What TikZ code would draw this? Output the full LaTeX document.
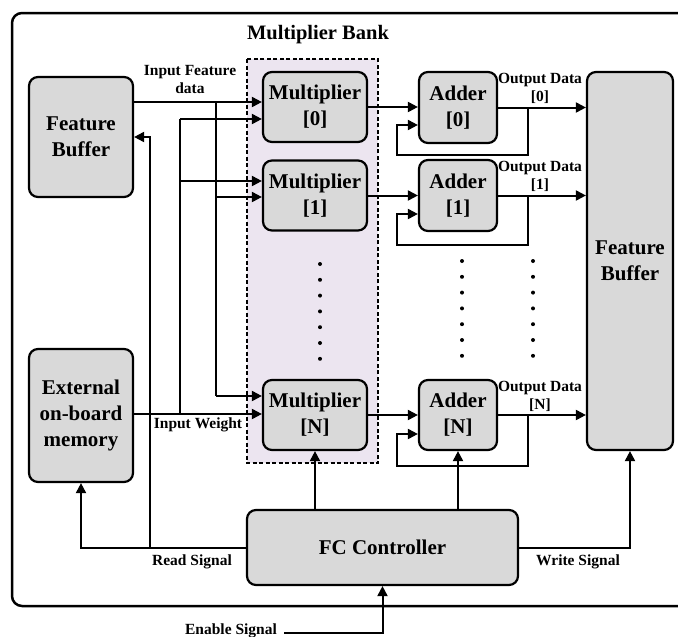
\documentclass[tikz,border=0pt]{standalone}
\usepackage{fontspec}
\setmainfont{Liberation Serif}
\usetikzlibrary{arrows.meta,calc}
\definecolor{boxgray}{HTML}{D9D9D9}
\definecolor{bankfill}{HTML}{ECE5F0}
\tikzset{
  blk/.style={draw, line width=2.2pt, fill=boxgray, rounded corners=9pt, inner sep=0pt, align=center,
    font=\bfseries\fontsize{21}{26}\selectfont},
  lbl/.style={inner sep=0pt, align=center, font=\bfseries\fontsize{15.5}{18}\selectfont},
  wire/.style={line width=2pt},
  arr/.style={line width=2pt, -{Triangle[length=10pt,width=10pt]}},
  dotm/.style={fill=black, circle, inner sep=0pt, minimum size=4pt}
}
\begin{document}
\begin{tikzpicture}[x=1pt,y=-1pt]
\useasboundingbox (0,0) rectangle (678,637);
% outer frame (runs off the right edge)
\draw[line width=2.5pt, rounded corners=10pt] (679,13) -- (12,13) -- (12,606) -- (679,606);
% multiplier bank
\draw[line width=2pt, dash pattern=on 4pt off 2.5pt, fill=bankfill] (247,59) rectangle (378,463);
\node[font=\bfseries\fontsize{20.5}{24}\selectfont, inner sep=0pt] (bank) at (318,35) {Multiplier Bank};
% blocks
\node[blk, minimum width=104pt, minimum height=120pt] (fbL) at (81,137) {Feature\\Buffer};
\node[blk, minimum width=104pt, minimum height=133pt] (ext) at (81,415.5) {External\\on-board\\memory};
\node[blk, minimum width=104pt, minimum height=70pt] (m0) at (315,107) {Multiplier\\{}[0]};
\node[blk, minimum width=104pt, minimum height=70pt] (m1) at (315,195.5) {Multiplier\\{}[1]};
\node[blk, minimum width=104pt, minimum height=70pt] (mN) at (315,415) {Multiplier\\{}[N]};
\node[blk, minimum width=78pt, minimum height=71pt] (a0) at (458,107.5) {Adder\\{}[0]};
\node[blk, minimum width=78pt, minimum height=71pt] (a1) at (458,195.5) {Adder\\{}[1]};
\node[blk, minimum width=78pt, minimum height=70pt] (aN) at (458,415) {Adder\\{}[N]};
\node[blk, minimum width=86pt, minimum height=378pt] (fbR) at (630,261) {Feature\\Buffer};
\node[blk, minimum width=271pt, minimum height=75pt] (fc) at (382.5,547.5) {FC Controller};
% pins
\coordinate (m0f) at ([yshift=5pt]m0.west);
\coordinate (m0w) at ([yshift=-12pt]m0.west);
\coordinate (m1w) at ([yshift=14.5pt]m1.west);
\coordinate (m1f) at ([yshift=-1.5pt]m1.west);
\coordinate (mNf) at ([yshift=19pt]mN.west);
\coordinate (mNw) at ([yshift=1pt]mN.west);
\coordinate (fb) at (216,0);
\coordinate (wb) at (180,0);
\coordinate (rb) at (150,0);
\coordinate (fbx) at (528,0);
\coordinate (lb) at (397,0);
% feature data
\draw[arr] (fbL.east |- m0f) -- (m0f);
\draw[wire] (fb |- m0f) -- (fb |- mNf);
\draw[arr] (fb |- m1f) -- (m1f);
\draw[arr] (fb |- mNf) -- (mNf);
\node[lbl] (ifd) at (190,80) {Input Feature\\data};
% weights
\draw[arr] (ext.east |- mNw) -- (mNw);
\draw[wire] (wb |- mNw) -- (wb |- m0w);
\draw[arr] (wb |- m0w) -- (m0w);
\draw[arr] (wb |- m1w) -- (m1w);
\node[lbl] (iw) at (198,425) {Input Weight};
% read signal
\draw[arr] (fc.west) -| (ext.south);
\draw[arr] (rb |- fc.west) |- (fbL.east);
\node[lbl] (rs) at (192,562) {Read Signal};
% multiplier -> adder
\draw[arr] (m0.east) -- (m0.east -| a0.west);
\draw[arr] (m1.east) -- (m1.east -| a1.west);
\draw[arr] (mN.east) -- (mN.east -| aN.west);
% adder outputs and feedback
\draw[arr] (a0.east) -- (a0.east -| fbR.west);
\draw[arr] (a1.east) -- (a1.east -| fbR.west);
\draw[arr] (aN.east) -- (aN.east -| fbR.west);
\draw[arr] (fbx |- a0.east) |- ($(a0.south -| lb)+(0,11)$) |- ([yshift=-17.5pt]a0.west);
\draw[arr] (fbx |- a1.east) |- ($(a1.south -| lb)+(0,13)$) |- ([yshift=-18.5pt]a1.west);
\draw[arr] (fbx |- aN.east) |- ($(aN.south -| lb)+(0,15)$) |- ([yshift=-19pt]aN.west);
\node[lbl] (od0) at (540,88) {Output Data\\{}[0]};
\node[lbl] (od1) at (540,176.5) {Output Data\\{}[1]};
\node[lbl] (odN) at (540,396.5) {Output Data\\{}[N]};
% controller signals
\draw[arr] (fc.north -| mN.south) -- (mN.south);
\draw[arr] (fc.north -| aN.south) -- (aN.south);
\draw[arr] (fc.east) -| (fbR.south);
\node[lbl] (ws) at (578,562) {Write Signal};
\node[lbl] (es) at (231,631) {Enable Signal};
\draw[arr] ([xshift=7pt,yshift=-2pt]es.east) -| (fc.south);
% dots
\foreach \k in {0,...,6} {
  \node[dotm] (dm\k) at (320,264+15.8*\k) {};
  \node[dotm] (da\k) at (462,261+15.8*\k) {};
  \node[dotm] (db\k) at (533,261+15.8*\k) {};
}
\end{tikzpicture}
\end{document}
